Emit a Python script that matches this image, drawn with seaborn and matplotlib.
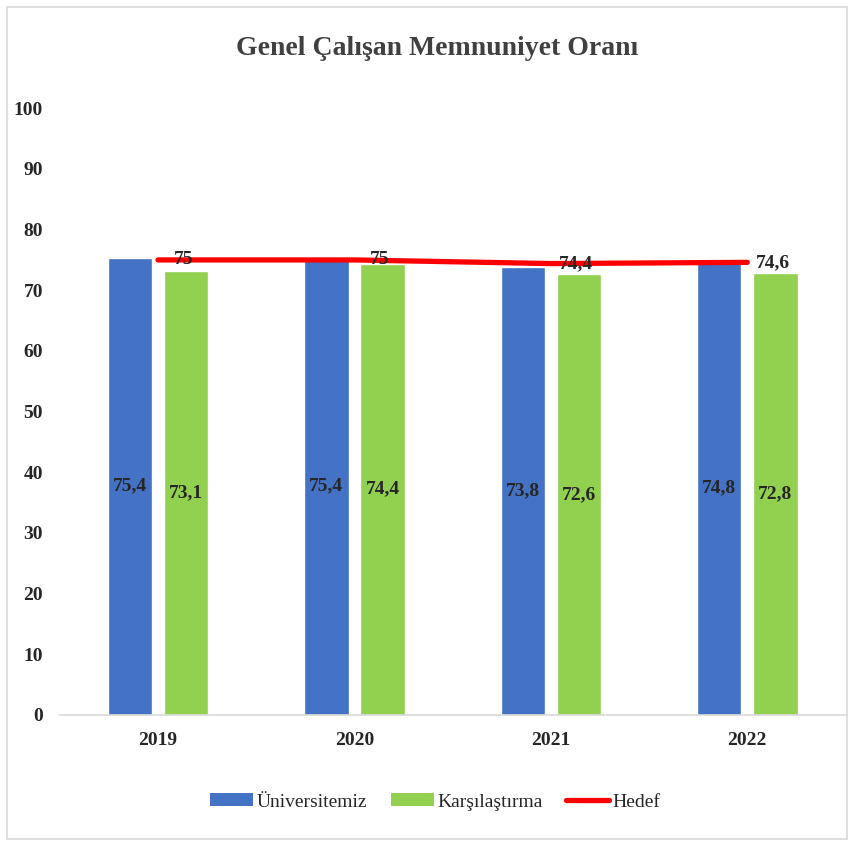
import matplotlib
matplotlib.use('Agg')
import matplotlib.pyplot as plt
import seaborn as sns
import pandas as pd
from matplotlib.patches import Patch, Rectangle
from matplotlib.lines import Line2D

# data
years = ['2019', '2020', '2021', '2022']
universitemiz = [75.4, 75.4, 73.8, 74.8]
karsilastirma = [73.1, 74.4, 72.6, 72.8]
hedef = [75, 75, 74.4, 74.6]

BLUE = '#4472C4'
GREEN = '#92D050'
RED = '#FF0000'
TXT = '#262626'

df = pd.DataFrame({
    'Yıl': years * 2,
    'Değer': universitemiz + karsilastirma,
    'Seri': ['Üniversitemiz'] * 4 + ['Karşılaştırma'] * 4,
})

sns.set_theme(style='white')
plt.rcParams['font.family'] = ['Liberation Serif', 'DejaVu Serif']

fig = plt.figure(figsize=(8.54, 8.46), dpi=100)
ax = fig.add_axes([0.070, 0.155, 0.920, 0.717])

sns.barplot(data=df, x='Yıl', y='Değer', hue='Seri', order=years,
            palette=[BLUE, GREEN], width=0.572, gap=0.21,
            legend=False, ax=ax, saturation=1)

# bar value labels (center of bar)
for cont in ax.containers:
    labels = [f'{v:.1f}'.replace('.', ',') for v in cont.datavalues]
    ax.bar_label(cont, labels=labels, label_type='center',
                 fontsize=14, color=TXT, fontweight='bold')

# target line
xpos = list(range(len(years)))
ax.plot(xpos, hedef, color=RED, lw=3.8, solid_capstyle='round', zorder=5)
for x, v in zip(xpos, hedef):
    txt = f'{v:g}'.replace('.', ',')
    ax.text(x + 0.13, v, txt, ha='center', va='center',
            fontsize=14, color=TXT, fontweight='bold', zorder=6)

ax.set_xlim(-0.5, 3.5)
ax.set_ylim(0, 100)
ax.set_yticks(range(0, 101, 10))
ax.set_xlabel('')
ax.set_ylabel('')
ax.tick_params(axis='both', length=0, labelsize=14, colors=TXT)
ax.tick_params(axis='y', pad=12)
ax.tick_params(axis='x', pad=12)
for lbl in ax.get_xticklabels() + ax.get_yticklabels():
    lbl.set_fontweight('bold')
for s in ['top', 'right', 'left']:
    ax.spines[s].set_visible(False)
ax.spines['bottom'].set_color('#D9D9D9')
ax.spines['bottom'].set_linewidth(1.2)

fig.text(0.512, 0.943, 'Genel Çalışan Memnuniyet Oranı', ha='center',
         va='center', fontsize=20, fontweight='bold', color='#404040')

handles = [Patch(facecolor=BLUE, edgecolor='none'),
           Patch(facecolor=GREEN, edgecolor='none'),
           Line2D([0], [0], color=RED, lw=3.8)]
fig.legend(handles, ['Üniversitemiz', 'Karşılaştırma', 'Hedef'],
           loc='center', bbox_to_anchor=(0.51, 0.052), ncol=3,
           frameon=False, fontsize=14, handlelength=2.2,
           handleheight=0.6, handletextpad=0.2, columnspacing=1.2,
           labelcolor=TXT)

# chart border
fig.patches.append(Rectangle((0.008, 0.008), 0.984, 0.984,
                             transform=fig.transFigure, fill=False,
                             edgecolor='#D9D9D9', lw=1.2))

plt.savefig('out.png', dpi=100)
